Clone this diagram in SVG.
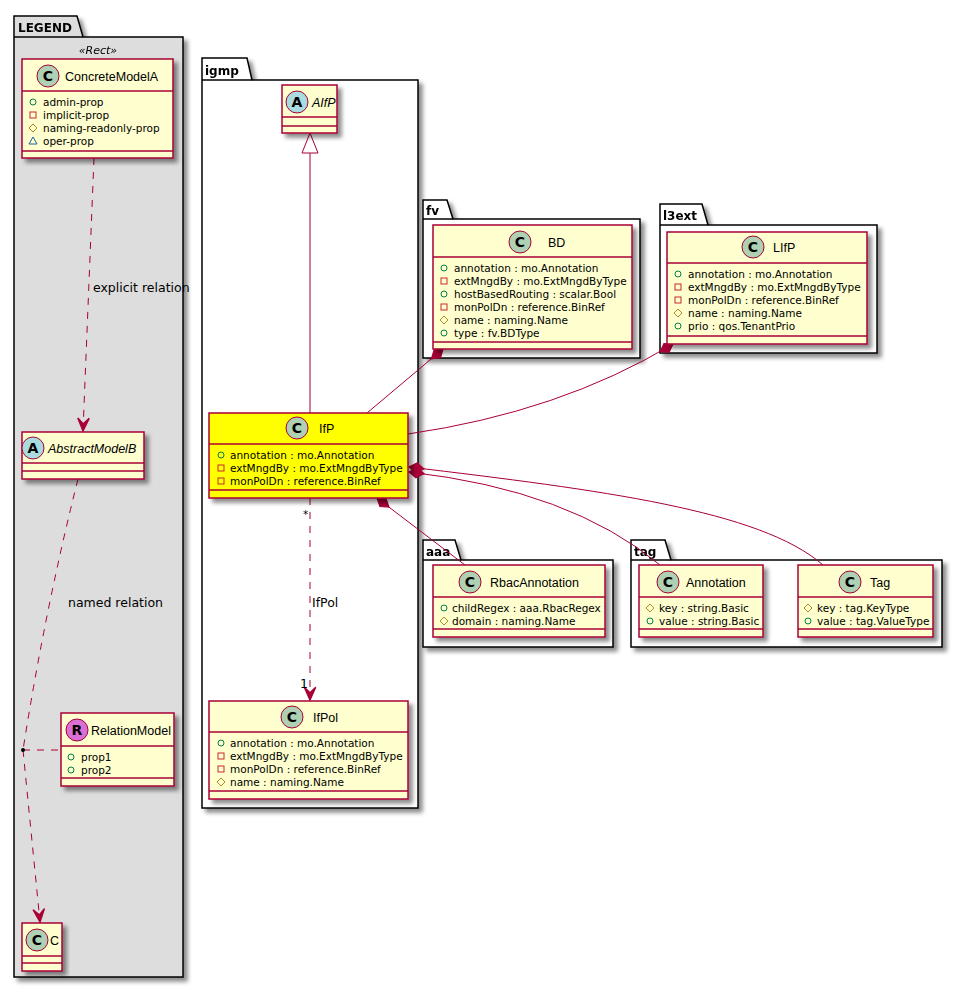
<svg xmlns="http://www.w3.org/2000/svg" xmlns:xlink="http://www.w3.org/1999/xlink" width="970" height="990" viewBox="0 0 970 990">
<style>
text{font-family:'DejaVu Sans','Liberation Sans',sans-serif;fill:#000}
.cls{fill:#FEFECE;stroke:#A80036;stroke-width:1.5}
.hl{fill:#FFFF00}
.dv{stroke:#A80036;stroke-width:1.5}
.pkg{fill:#FFFFFF;stroke:#000;stroke-width:1.5}
.leg{fill:#DDDDDD}
.pt{font-size:12px;font-weight:bold}
.nm{font-family:'Liberation Sans',sans-serif;font-size:12.5px}
.st{font-size:11px}
.it{font-style:italic}
.at{font-size:10.5px}
.lb{font-size:12.5px}
.sp{stroke:#A80036;stroke-width:1}
.spC{fill:#ADD1B2}
.spA{fill:#A9DCDF}
.spR{fill:#DA70D6}
.sl{font-size:14px;font-weight:bold;text-anchor:middle}
.ln{fill:none;stroke:#A80036;stroke-width:1}
.ds{stroke-dasharray:7,7}
.pub{fill:none;stroke:#038048;stroke-width:1}
.pri{fill:none;stroke:#C82930;stroke-width:1}
.pro{fill:none;stroke:#B38D22;stroke-width:1}
.pk{fill:none;stroke:#1963A0;stroke-width:1}
</style>
<defs>
<filter id="sh" x="-10%" y="-10%" width="130%" height="130%">
<feGaussianBlur in="SourceAlpha" stdDeviation="2"/>
<feOffset dx="4" dy="4" result="o"/>
<feColorMatrix in="o" type="matrix" values="0 0 0 0 0  0 0 0 0 0  0 0 0 0 0  0 0 0 0.45 0"/>
<feMerge><feMergeNode/><feMergeNode in="SourceGraphic"/></feMerge>
</filter>
<circle id="ipub" class="pub" r="3"/>
<rect id="ipri" class="pri" x="-3" y="-3" width="6" height="6"/>
<polygon id="ipro" class="pro" points="0,-4 4,0 0,4 -4,0"/>
<polygon id="ipkg" class="pk" points="0,-4 4,3 -4,3"/>
<marker id="arr" markerUnits="userSpaceOnUse" markerWidth="20" markerHeight="20" viewBox="-12 -6 14 12" refX="0" refY="0" orient="auto" overflow="visible">
<path d="M0,0 L-9,-4 L-5,0 L-9,4 Z" fill="#A80036" stroke="#A80036" stroke-width="1" stroke-dasharray="none"/>
</marker>
<marker id="dia" markerUnits="userSpaceOnUse" markerWidth="20" markerHeight="20" viewBox="-2 -6 16 12" refX="0" refY="0" orient="auto" overflow="visible">
<path d="M0,0 L6,-4 L12,0 L6,4 Z" fill="#A80036" stroke="#A80036" stroke-width="1"/>
</marker>
</defs>
<rect width="970" height="990" fill="#FFFFFF"/>

<!-- packages -->
<g id="pkg-legend" filter="url(#sh)">
<path class="pkg leg" d="M14,37 L14,16 L77,16 L83,37 L183,37 L183,977 L14,977 Z"/>
<line x1="14" y1="37" x2="83" y2="37" stroke="#000" stroke-width="1.5"/>
<text class="pt" x="18" y="32">LEGEND</text>
<text class="st it" x="98" y="54" text-anchor="middle">«Rect»</text>
</g>
<g id="pkg-igmp" filter="url(#sh)">
<path class="pkg" d="M202,80 L202,58 L247,58 L252,80 L418,80 L418,808 L202,808 Z"/>
<line x1="202" y1="80" x2="252" y2="80" stroke="#000" stroke-width="1.5"/>
<text class="pt" x="205" y="75">igmp</text>
</g>
<g id="pkg-fv" filter="url(#sh)">
<path class="pkg" d="M423,219 L423,200 L447,200 L453,219 L640,219 L640,358 L423,358 Z"/>
<line x1="423" y1="219" x2="453" y2="219" stroke="#000" stroke-width="1.5"/>
<text class="pt" x="426" y="215">fv</text>
</g>
<g id="pkg-l3ext" filter="url(#sh)">
<path class="pkg" d="M660,225 L660,204 L702,204 L708,225 L877,225 L877,353 L660,353 Z"/>
<line x1="660" y1="225" x2="708" y2="225" stroke="#000" stroke-width="1.5"/>
<text class="pt" x="663" y="220">l3ext</text>
</g>
<g id="pkg-aaa" filter="url(#sh)">
<path class="pkg" d="M423,560 L423,540 L455,540 L461,560 L613,560 L613,647 L423,647 Z"/>
<line x1="423" y1="560" x2="461" y2="560" stroke="#000" stroke-width="1.5"/>
<text class="pt" x="426" y="556">aaa</text>
</g>
<g id="pkg-tag" filter="url(#sh)">
<path class="pkg" d="M631,560 L631,540 L665,540 L671,560 L942,560 L942,647 L631,647 Z"/>
<line x1="631" y1="560" x2="671" y2="560" stroke="#000" stroke-width="1.5"/>
<text class="pt" x="634" y="556">tag</text>
</g>

<!-- connectors -->
<g id="connectors">
<path class="ln ds" d="M94,158 L83,431" marker-end="url(#arr)"/>
<text class="lb" x="93" y="292">explicit relation</text>
<path class="ln ds" d="M78,479 Q45,610 23,750"/>
<path class="ln ds" d="M23,750 L40,922" marker-end="url(#arr)"/>
<path class="ln ds" d="M23,750 L61,750"/>
<circle cx="23" cy="750" r="2" fill="#000"/>
<text class="lb" x="68" y="607">named relation</text>

<line class="ln" x1="310" y1="153" x2="310" y2="413"/>
<polygon points="310,133 302,153 318,153" fill="#FFFFFF" stroke="#A80036" stroke-width="1"/>

<path class="ln" d="M443,349 L367,413" marker-start="url(#dia)"/>
<path class="ln" d="M673,344 Q560,412 408,434" marker-start="url(#dia)"/>
<path class="ln" d="M409,472 Q570,490 660,565" marker-start="url(#dia)"/>
<path class="ln" d="M409,467 C600,490 760,510 823,565" marker-start="url(#dia)"/>
<path class="ln" d="M377,498 L465,565" marker-start="url(#dia)"/>

<path class="ln ds" d="M310,498 L310,700" marker-end="url(#arr)"/>
<text class="at" x="303" y="518">*</text>
<text class="lb" x="300" y="688">1</text>
<text class="lb" x="312" y="607">IfPol</text>
</g>

<!-- legend nodes -->
<g id="ConcreteModelA">
<rect class="cls" x="22" y="59" width="151" height="99" filter="url(#sh)"/>
<line class="dv" x1="22" y1="91" x2="173" y2="91"/>
<line class="dv" x1="22" y1="151" x2="173" y2="151"/>
<circle class="sp spC" cx="48" cy="76" r="11"/>
<text class="sl" x="48" y="81">C</text>
<text class="nm" x="65" y="80.5">ConcreteModelA</text>
<use href="#ipub" x="33" y="102"/><text class="at" x="43" y="106">admin-prop</text>
<use href="#ipri" x="33" y="115"/><text class="at" x="43" y="119">implicit-prop</text>
<use href="#ipro" x="33" y="128"/><text class="at" x="43" y="132">naming-readonly-prop</text>
<use href="#ipkg" x="33" y="141"/><text class="at" x="43" y="145">oper-prop</text>
</g>
<g id="AbstractModelB">
<rect class="cls" x="22" y="432" width="122" height="47" filter="url(#sh)"/>
<line class="dv" x1="22" y1="463" x2="144" y2="463"/>
<line class="dv" x1="22" y1="471" x2="144" y2="471"/>
<circle class="sp spA" cx="33" cy="448" r="11"/>
<text class="sl" x="33" y="453">A</text>
<text class="nm it" x="48" y="452.5">AbstractModelB</text>
</g>
<g id="RelationModel">
<rect class="cls" x="61" y="713" width="113" height="73" filter="url(#sh)"/>
<line class="dv" x1="61" y1="746" x2="174" y2="746"/>
<line class="dv" x1="61" y1="778" x2="174" y2="778"/>
<circle class="sp spR" cx="77" cy="730" r="11"/>
<text class="sl" x="77" y="735">R</text>
<text class="nm" x="91" y="734.5">RelationModel</text>
<use href="#ipub" x="71" y="757"/><text class="at" x="81" y="761">prop1</text>
<use href="#ipub" x="71" y="770"/><text class="at" x="81" y="774">prop2</text>
</g>
<g id="C">
<rect class="cls" x="22" y="923" width="40" height="48" filter="url(#sh)"/>
<line class="dv" x1="22" y1="956" x2="62" y2="956"/>
<line class="dv" x1="22" y1="963" x2="62" y2="963"/>
<circle class="sp spC" cx="37" cy="940" r="11"/>
<text class="sl" x="37" y="945">C</text>
<text class="nm" x="50" y="944.5">C</text>
</g>

<!-- igmp nodes -->
<g id="AIfP">
<rect class="cls" x="282" y="85" width="55" height="48" filter="url(#sh)"/>
<line class="dv" x1="282" y1="117" x2="337" y2="117"/>
<line class="dv" x1="282" y1="126" x2="337" y2="126"/>
<circle class="sp spA" cx="297" cy="102" r="11"/>
<text class="sl" x="297" y="107">A</text>
<text class="nm it" x="312" y="106.5">AIfP</text>
</g>
<g id="IfP">
<rect class="cls hl" x="209" y="413" width="199" height="85" filter="url(#sh)"/>
<line class="dv" x1="209" y1="444" x2="408" y2="444"/>
<line class="dv" x1="209" y1="490" x2="408" y2="490"/>
<circle class="sp spC" cx="297" cy="428" r="11"/>
<text class="sl" x="297" y="433">C</text>
<text class="nm" x="319" y="432.5">IfP</text>
<use href="#ipub" x="221" y="455"/><text class="at" x="230" y="459">annotation : mo.Annotation</text>
<use href="#ipri" x="221" y="468"/><text class="at" x="230" y="472">extMngdBy : mo.ExtMngdByType</text>
<use href="#ipri" x="221" y="481"/><text class="at" x="230" y="485">monPolDn : reference.BinRef</text>
</g>
<g id="IfPol">
<rect class="cls" x="209" y="701" width="199" height="98" filter="url(#sh)"/>
<line class="dv" x1="209" y1="732" x2="408" y2="732"/>
<line class="dv" x1="209" y1="791" x2="408" y2="791"/>
<circle class="sp spC" cx="292" cy="717" r="11"/>
<text class="sl" x="292" y="722">C</text>
<text class="nm" x="313" y="721.5">IfPol</text>
<use href="#ipub" x="221" y="743"/><text class="at" x="230" y="747">annotation : mo.Annotation</text>
<use href="#ipri" x="221" y="756"/><text class="at" x="230" y="760">extMngdBy : mo.ExtMngdByType</text>
<use href="#ipri" x="221" y="769"/><text class="at" x="230" y="773">monPolDn : reference.BinRef</text>
<use href="#ipro" x="221" y="782"/><text class="at" x="230" y="786">name : naming.Name</text>
</g>

<!-- fv -->
<g id="BD">
<rect class="cls" x="433" y="225" width="199" height="124" filter="url(#sh)"/>
<line class="dv" x1="433" y1="257" x2="632" y2="257"/>
<line class="dv" x1="433" y1="342" x2="632" y2="342"/>
<circle class="sp spC" cx="520" cy="242" r="11"/>
<text class="sl" x="520" y="247">C</text>
<text class="nm" x="548" y="246.5">BD</text>
<use href="#ipub" x="444" y="268"/><text class="at" x="454" y="272">annotation : mo.Annotation</text>
<use href="#ipri" x="444" y="281"/><text class="at" x="454" y="285">extMngdBy : mo.ExtMngdByType</text>
<use href="#ipub" x="444" y="294"/><text class="at" x="454" y="298">hostBasedRouting : scalar.Bool</text>
<use href="#ipri" x="444" y="307"/><text class="at" x="454" y="311">monPolDn : reference.BinRef</text>
<use href="#ipro" x="444" y="320"/><text class="at" x="454" y="324">name : naming.Name</text>
<use href="#ipub" x="444" y="333"/><text class="at" x="454" y="337">type : fv.BDType</text>
</g>

<!-- l3ext -->
<g id="LIfP">
<rect class="cls" x="667" y="232" width="200" height="112" filter="url(#sh)"/>
<line class="dv" x1="667" y1="263" x2="867" y2="263"/>
<line class="dv" x1="667" y1="336" x2="867" y2="336"/>
<circle class="sp spC" cx="753" cy="247" r="11"/>
<text class="sl" x="753" y="252">C</text>
<text class="nm" x="773" y="251.5">LIfP</text>
<use href="#ipub" x="678" y="274"/><text class="at" x="688" y="278">annotation : mo.Annotation</text>
<use href="#ipri" x="678" y="287"/><text class="at" x="688" y="291">extMngdBy : mo.ExtMngdByType</text>
<use href="#ipri" x="678" y="300"/><text class="at" x="688" y="304">monPolDn : reference.BinRef</text>
<use href="#ipro" x="678" y="313"/><text class="at" x="688" y="317">name : naming.Name</text>
<use href="#ipub" x="678" y="326"/><text class="at" x="688" y="330">prio : qos.TenantPrio</text>
</g>

<!-- aaa -->
<g id="RbacAnnotation">
<rect class="cls" x="433" y="565" width="172" height="72" filter="url(#sh)"/>
<line class="dv" x1="433" y1="597" x2="605" y2="597"/>
<line class="dv" x1="433" y1="629" x2="605" y2="629"/>
<circle class="sp spC" cx="470" cy="582" r="11"/>
<text class="sl" x="470" y="587">C</text>
<text class="nm" x="490" y="586.5">RbacAnnotation</text>
<use href="#ipub" x="444" y="608"/><text class="at" x="452" y="612">childRegex : aaa.RbacRegex</text>
<use href="#ipro" x="444" y="621"/><text class="at" x="452" y="625">domain : naming.Name</text>
</g>

<!-- tag -->
<g id="Annotation">
<rect class="cls" x="639" y="565" width="124" height="72" filter="url(#sh)"/>
<line class="dv" x1="639" y1="597" x2="763" y2="597"/>
<line class="dv" x1="639" y1="629" x2="763" y2="629"/>
<circle class="sp spC" cx="668" cy="582" r="11"/>
<text class="sl" x="668" y="587">C</text>
<text class="nm" x="686" y="586.5">Annotation</text>
<use href="#ipro" x="650" y="608"/><text class="at" x="659" y="612">key : string.Basic</text>
<use href="#ipub" x="650" y="621"/><text class="at" x="659" y="625">value : string.Basic</text>
</g>
<g id="Tag">
<rect class="cls" x="798" y="565" width="135" height="72" filter="url(#sh)"/>
<line class="dv" x1="798" y1="597" x2="933" y2="597"/>
<line class="dv" x1="798" y1="629" x2="933" y2="629"/>
<circle class="sp spC" cx="850" cy="582" r="11"/>
<text class="sl" x="850" y="587">C</text>
<text class="nm" x="870" y="586.5">Tag</text>
<use href="#ipro" x="808" y="608"/><text class="at" x="817" y="612">key : tag.KeyType</text>
<use href="#ipub" x="808" y="621"/><text class="at" x="817" y="625">value : tag.ValueType</text>
</g>
</svg>
